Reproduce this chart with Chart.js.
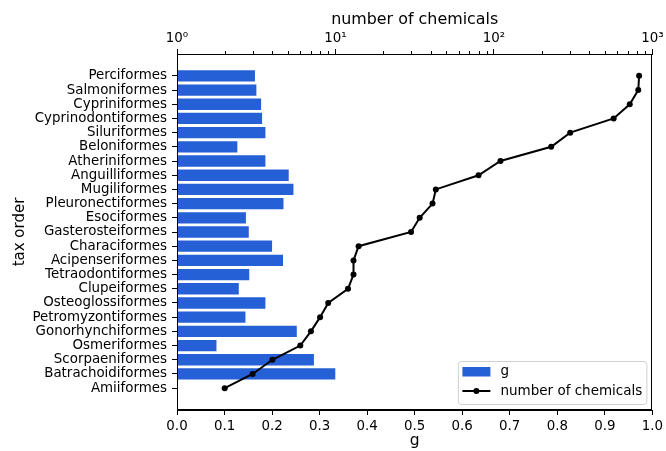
<!DOCTYPE html>
<html><head><meta charset="utf-8">
<script src="https://cdn.jsdelivr.net/npm/chart.js@4"></script>
<style>html,body{margin:0;padding:0;background:#fff}#wrap{width:666px;height:451px}</style>
</head><body><div id="wrap"><canvas id="c" width="666" height="451"></canvas></div>
<script>
const categories = ['Perciformes','Salmoniformes','Cypriniformes','Cyprinodontiformes','Siluriformes','Beloniformes','Atheriniformes','Anguilliformes','Mugiliformes','Pleuronectiformes','Esociformes','Gasterosteiformes','Characiformes','Acipenseriformes','Tetraodontiformes','Clupeiformes','Osteoglossiformes','Petromyzontiformes','Gonorhynchiformes','Osmeriformes','Scorpaeniformes','Batrachoidiformes','Amiiformes'];
const gValues = [0.164,0.167,0.177,0.179,0.186,0.127,0.186,0.235,0.245,0.224,0.145,0.151,0.200,0.223,0.152,0.130,0.186,0.144,0.252,0.083,0.288,0.333,0];
const chemicalCounts = [825,815,720,570,303,230,110,80,43,41,34,30,14,13,13,12,9,8,7,6,4,3,2];
const gTicks = [0,0.1,0.2,0.3,0.4,0.5,0.6,0.7,0.8,0.9,1.0];
const logMajorTicks = [1,10,100,1000];
const logMajorLabels = ['10\u2070','10\u00b9','10\u00b2','10\u00b3'];
const logMinorTicks = [2,3,4,5,6,7,8,9,20,30,40,50,60,70,80,90,200,300,400,500,600,700,800,900];

const FONT = "'DejaVu Sans', sans-serif";
Chart.defaults.font.family = FONT;
Chart.defaults.color = '#000';

const BAR_COLOR = '#2660d6';

const framePlugin = {
  id: 'frame',
  afterDraw(chart) {
    const {ctx, chartArea: a} = chart;
    ctx.save();
    ctx.strokeStyle = '#000';
    ctx.lineWidth = 1;
    ctx.strokeRect(Math.round(a.left) + 0.5, Math.round(a.top) + 0.5, Math.round(a.right - a.left) - 1, Math.round(a.bottom - a.top) - 1);
    // minor ticks on log axis
    const s = chart.scales.x2;
    ctx.beginPath();
    logMinorTicks.forEach(v => {
      const x = Math.round(s.getPixelForValue(v)) + 0.5;
      ctx.moveTo(x, a.top);
      ctx.lineTo(x, a.top - 3);
    });
    ctx.stroke();
    // legend
    ctx.font = "13.5px " + FONT;
    const labels = ['g', 'number of chemicals'];
    const tw = Math.max(...labels.map(t => ctx.measureText(t).width));
    const w = 4.5 + 28 + 10 + tw + 4;
    const h = 43;
    const x0 = a.right - 6 - w, y0 = a.bottom - 6 - h;
    ctx.fillStyle = 'rgba(255,255,255,0.85)';
    ctx.strokeStyle = '#d0d0d0';
    ctx.beginPath();
    ctx.roundRect(x0 + 0.5, y0 + 0.5, w, h, 3);
    ctx.fill(); ctx.stroke();
    ctx.fillStyle = BAR_COLOR;
    ctx.fillRect(x0 + 4.5, y0 + 6, 28, 9.5);
    ctx.strokeStyle = '#000'; ctx.lineWidth = 2;
    ctx.beginPath(); ctx.moveTo(x0 + 4.5, y0 + 30); ctx.lineTo(x0 + 32.5, y0 + 30); ctx.stroke();
    ctx.fillStyle = '#000';
    ctx.beginPath(); ctx.arc(x0 + 18.5, y0 + 30, 3, 0, Math.PI * 2); ctx.fill();
    ctx.textBaseline = 'middle'; ctx.textAlign = 'left';
    ctx.fillText(labels[0], x0 + 42.5, y0 + 10.5);
    ctx.fillText(labels[1], x0 + 42.5, y0 + 30);
    ctx.restore();
  }
};

new Chart(document.getElementById('c'), {
  type: 'bar',
  data: {
    datasets: [
      {
        type: 'bar', label: 'g', indexAxis: 'y',
        data: gValues.map((v, i) => ({x: v, y: i})),
        backgroundColor: BAR_COLOR, borderWidth: 0,
        barPercentage: 0.8, categoryPercentage: 1.0,
        xAxisID: 'x', yAxisID: 'y', order: 2
      },
      {
        type: 'line', label: 'number of chemicals', indexAxis: 'y',
        data: chemicalCounts.map((v, i) => ({x: v, y: i})),
        borderColor: '#000', backgroundColor: '#000', borderWidth: 2,
        pointRadius: 3, pointBackgroundColor: '#000', pointBorderWidth: 0,
        fill: false, tension: 0,
        xAxisID: 'x2', yAxisID: 'y', order: 1
      }
    ]
  },
  options: {
    indexAxis: 'y',
    responsive: false,
    animation: false,
    layout: {padding: {left: 0, right: 13, top: 0, bottom: 0}},
    plugins: {legend: {display: false}, tooltip: {enabled: false}},
    scales: {
      y: {
        type: 'linear', position: 'left', reverse: true, offset: false,
        min: -1.54, max: 23.54,
        afterBuildTicks: s => { s.ticks = categories.map((_, i) => ({value: i})); },
        afterFit: s => { s.width = 177; },
        ticks: {autoSkip: false, font: {size: 13.4}, padding: 5, callback: v => categories[v] ?? ''},
        grid: {offset: false, drawOnChartArea: false, tickLength: 5, tickColor: '#000', tickWidth: 1},
        border: {display: true, color: '#000', width: 1},
        title: {display: true, text: 'tax order', font: {size: 15}, padding: {top: 11, bottom: 0}}
      },
      x: {
        type: 'linear', position: 'bottom', min: 0, max: 1,
        afterBuildTicks: s => { s.ticks = gTicks.map(v => ({value: v})); },
        afterFit: s => { s.height = 41; },
        ticks: {autoSkip: false, maxRotation: 0, font: {size: 13.4}, padding: 3, callback: v => Number(v).toFixed(1)},
        grid: {drawOnChartArea: false, tickLength: 5, tickColor: '#000', tickWidth: 1},
        border: {display: true, color: '#000', width: 1},
        title: {display: true, text: 'g', font: {size: 15.5}, padding: {top: 0, bottom: 1}}
      },
      x2: {
        type: 'logarithmic', position: 'top', min: 1, max: 1000,
        afterBuildTicks: s => { s.ticks = logMajorTicks.map(v => ({value: v})); },
        afterFit: s => { s.height = 54; },
        ticks: {autoSkip: false, maxRotation: 0, font: {size: 13.4}, padding: 2,
          callback: v => { const i = logMajorTicks.indexOf(Number(v)); return i >= 0 ? logMajorLabels[i] : ''; }},
        grid: {drawOnChartArea: false, tickLength: 5, tickColor: '#000', tickWidth: 1},
        border: {display: true, color: '#000', width: 1},
        title: {display: true, text: 'number of chemicals', font: {size: 15.9}, padding: {top: 10.5, bottom: 0}}
      }
    }
  },
  plugins: [framePlugin]
});
</script>
</body></html>
